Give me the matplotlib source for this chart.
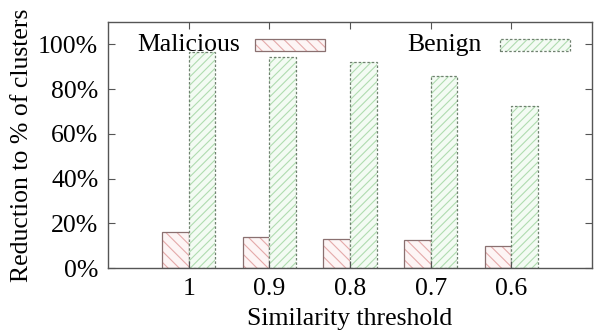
import matplotlib
matplotlib.use("Agg")
import matplotlib.pyplot as plt
import numpy as np

thresholds = ["1", "0.9", "0.8", "0.7", "0.6"]
malicious = [16, 14, 13, 12.5, 10]
benign = [96.5, 94.5, 92, 86, 72.5]

plt.rcParams['font.family'] = ['Liberation Serif', 'DejaVu Serif']
plt.rcParams['hatch.linewidth'] = 0.8
fs = 18.5

fig = plt.figure(figsize=(5.95, 3.34), dpi=100)
ax = fig.add_axes([0.1815, 0.1976, 0.8135, 0.7364])

x = np.arange(len(thresholds))
w = 0.33
mal_face = '#fdf5f5'
mal_hatch = '#e4a9a9'
ben_face = '#f3fbf3'
ben_hatch = '#b0dcb0'

# malicious bars: hatch layer + outline
ax.bar(x - w/2, malicious, w, color=mal_face, edgecolor=mal_hatch, hatch='\\\\\\', linewidth=0)
ax.bar(x - w/2, malicious, w, fill=False, edgecolor='#8a7070', linewidth=0.9)
# benign bars
ax.bar(x + w/2, benign, w, color=ben_face, edgecolor=ben_hatch, hatch='////', linewidth=0)
ax.bar(x + w/2, benign, w, fill=False, edgecolor='#6f806f', linewidth=0.9, linestyle=(0, (2, 1.5)))

ax.set_xlim(-1, 5)
ax.set_ylim(0, 110)
ax.set_xticks(x)
ax.set_xticklabels(thresholds, fontsize=fs)
ax.set_yticks(np.arange(0, 101, 20))
ax.set_yticklabels([f"{v}%" for v in range(0, 101, 20)], fontsize=fs)
ax.tick_params(direction='in', top=True, right=True, length=5, color='#555555', pad=7)
for s in ax.spines.values():
    s.set_color('#555555')
    s.set_linewidth(1.0)

ax.set_xlabel("Similarity threshold", fontsize=fs, labelpad=6)
ax.set_ylabel("Reduction to % of clusters", fontsize=fs, labelpad=4)

# legend (gnuplot style: text then swatch)
def data_from_px(px, py):
    return ax.transData.inverted().transform(fig.transFigure.transform((px/595, 1 - py/334)))

ax.text(*data_from_px(240, 45), "Malicious", ha='right', va='center', fontsize=fs)
x0, y0 = data_from_px(255, 51)
x1, y1 = data_from_px(325, 39)
ax.bar(x0, y1 - y0, x1 - x0, bottom=y0, align='edge', color=mal_face, edgecolor=mal_hatch, hatch='\\\\\\', linewidth=0)
ax.bar(x0, y1 - y0, x1 - x0, bottom=y0, align='edge', fill=False, edgecolor='#8a7070', linewidth=0.9)
ax.text(*data_from_px(482, 45), "Benign", ha='right', va='center', fontsize=fs)
x0, y0 = data_from_px(500, 51)
x1, y1 = data_from_px(570, 39)
ax.bar(x0, y1 - y0, x1 - x0, bottom=y0, align='edge', color=ben_face, edgecolor=ben_hatch, hatch='////', linewidth=0)
ax.bar(x0, y1 - y0, x1 - x0, bottom=y0, align='edge', fill=False, edgecolor='#6f806f', linewidth=0.9, linestyle=(0, (2, 1.5)))

fig.savefig("out.png", dpi=100)
